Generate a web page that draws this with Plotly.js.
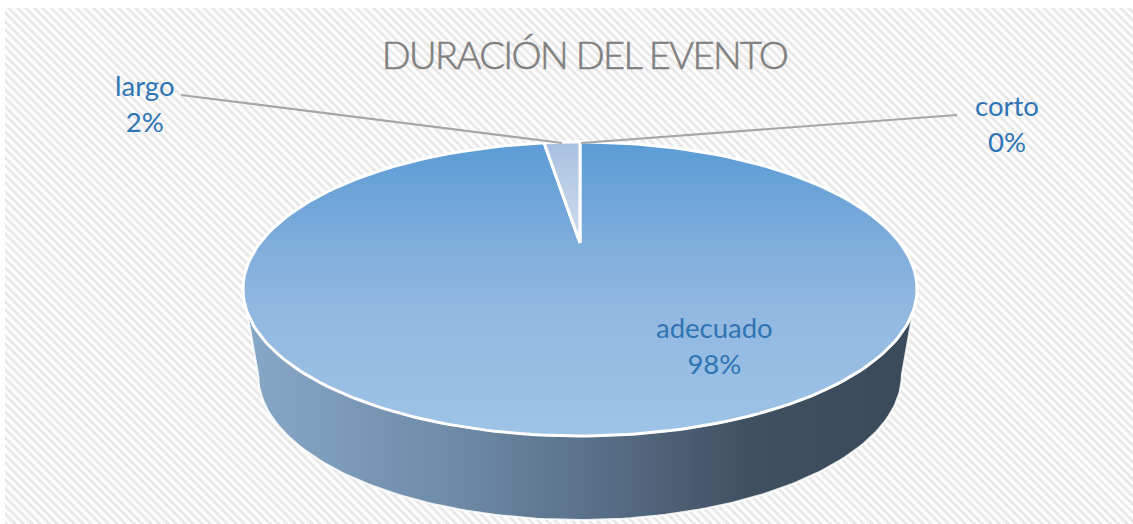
<!DOCTYPE html>
<html>
<head>
<meta charset="utf-8">
<script src="https://cdn.plot.ly/plotly-3.0.1.min.js"></script>
<style>
html,body{margin:0;padding:0;background:#fff;width:1133px;height:524px;overflow:hidden}
#hatch{position:absolute;left:5px;top:8px;width:1128px;height:516px;
background:repeating-linear-gradient(45deg,#e9e9e9 0,#e9e9e9 2.8px,#fcfcfc 2.8px,#fcfcfc 6px)}
#chart{position:absolute;left:0;top:0;width:1133px;height:524px}
#chart .gtitle{letter-spacing:-1.6px;stroke:#808080;stroke-width:0.6px}
</style>
</head>
<body>
<div id="hatch"></div>
<div id="chart"></div>
<script>
var categories = ["adecuado", "largo", "corto"];
var shareValues = [98.3, 1.7, 0];
var labelPercents = ["98%", "2%", "0%"];
var titleText = "DURACIÓN DEL EVENTO";

var W = 1133, H = 524;
var cx = 580, cy = 289, rx = 337, ry = 147;
// unit disc: the pie's top face is the circle of radius 1
var apexY = 0.313;
var depth = {cy: -0.585, rx: 0.955, ry: 0.986};
var total = shareValues.reduce(function(a, b){ return a + b; }, 0);

function arc(a0, a1, n, r, c, ky) {
  var xs = [], ys = [];
  for (var i = 0; i <= n; i++) {
    var a = a0 + (a1 - a0) * i / n;
    xs.push(r * Math.sin(a));
    ys.push(c + ky * Math.cos(a));
  }
  return {x: xs, y: ys};
}
var TAU = 2 * Math.PI;
var traces = [];

// side wall: outer contour of the lower face plus the edges of the top face
var lowerFace = arc(-0.5 * Math.PI, -1.5 * Math.PI, 140, depth.rx, depth.cy, depth.ry);
var topRim = arc(0.5 * Math.PI, 1.5 * Math.PI, 140, 1, 0, 1);
var sideX = lowerFace.x.concat(topRim.x);
var sideY = lowerFace.y.concat(topRim.y);
sideX.push(sideX[0]); sideY.push(sideY[0]);
traces.push({
  x: sideX, y: sideY, mode: "lines", fill: "toself", hoverinfo: "skip",
  line: {color: "rgba(255,255,255,0.85)", width: 2},
  fillcolor: "rgba(0,0,0,0)",
  fillgradient: {type: "horizontal", start: -1, stop: 1, colorscale: [
    [0, "#88a8c8"], [0.3, "#6f8ca8"], [0.55, "#566c84"], [0.75, "#3f5060"], [1, "#3a4a5a"]
  ]}
});

// slices from the shares, clockwise from 12 o'clock
var angle = 0;
var faces = [
  [[0, "#5b9bd5"], [0.37, "#80aedb"], [0.6, "#93b9e1"], [1, "#9dc3e6"]],
  [[0, "#a9c1e0"], [1, "#cfdded"]]
];
categories.forEach(function(name, i) {
  var sweep = shareValues[i] / total * TAU;
  if (sweep > 0) {
    var rim = arc(angle, angle + sweep, 220, 1, 0, 1);
    var xs = [0].concat(rim.x, [0]);
    var ys = [apexY].concat(rim.y, [apexY]);
    traces.push({
      x: xs, y: ys, mode: "lines", fill: "toself", hoverinfo: "skip",
      name: name,
      line: {color: "#ffffff", width: 3},
      fillcolor: "rgba(0,0,0,0)",
      fillgradient: i === 0
        ? {type: "vertical", start: 1, stop: -1, colorscale: faces[0]}
        : {type: "vertical", start: 1, stop: apexY, colorscale: faces[1]}
    });
  }
  angle += sweep;
});

function px2x(p) { return (p - cx) / rx; }
function px2y(p) { return (cy - p) / ry; }

// leader lines
var leaderX = [[181, 562], [957, 581]];
var leaderY = [[95, 143], [115, 143]];
leaderX.forEach(function(lx, i) {
  traces.push({
    x: lx.map(px2x), y: leaderY[i].map(px2y), mode: "lines", hoverinfo: "skip",
    line: {color: "#a6a6a6", width: 2.2}
  });
});

var labelPos = [[714, 345], [145, 103], [1007, 123]];
var annotations = categories.map(function(name, i) {
  return {
    x: px2x(labelPos[i][0]), y: px2y(labelPos[i][1]), xref: "x", yref: "y",
    text: name + "<br>" + labelPercents[i], showarrow: false,
    align: "center", xanchor: "center", yanchor: "middle",
    font: {family: "Lato, 'Open Sans', sans-serif", size: 27.5, color: "#2e75b6"}
  };
});

var layout = {
  width: W, height: H, showlegend: false,
  margin: {l: 0, r: 0, t: 0, b: 0},
  paper_bgcolor: "rgba(0,0,0,0)", plot_bgcolor: "rgba(0,0,0,0)",
  title: {
    text: titleText, x: 584.5 / W, xanchor: "center", y: 1 - 55.5 / H, yanchor: "middle",
    font: {family: "Lato, 'Open Sans', sans-serif", size: 38, weight: 300, color: "#808080"}
  },
  xaxis: {range: [px2x(0), px2x(W)], visible: false, fixedrange: true},
  yaxis: {range: [px2y(H), px2y(0)], visible: false, fixedrange: true},
  annotations: annotations
};
Plotly.newPlot("chart", traces, layout, {displayModeBar: false, staticPlot: true});
</script>
</body>
</html>
